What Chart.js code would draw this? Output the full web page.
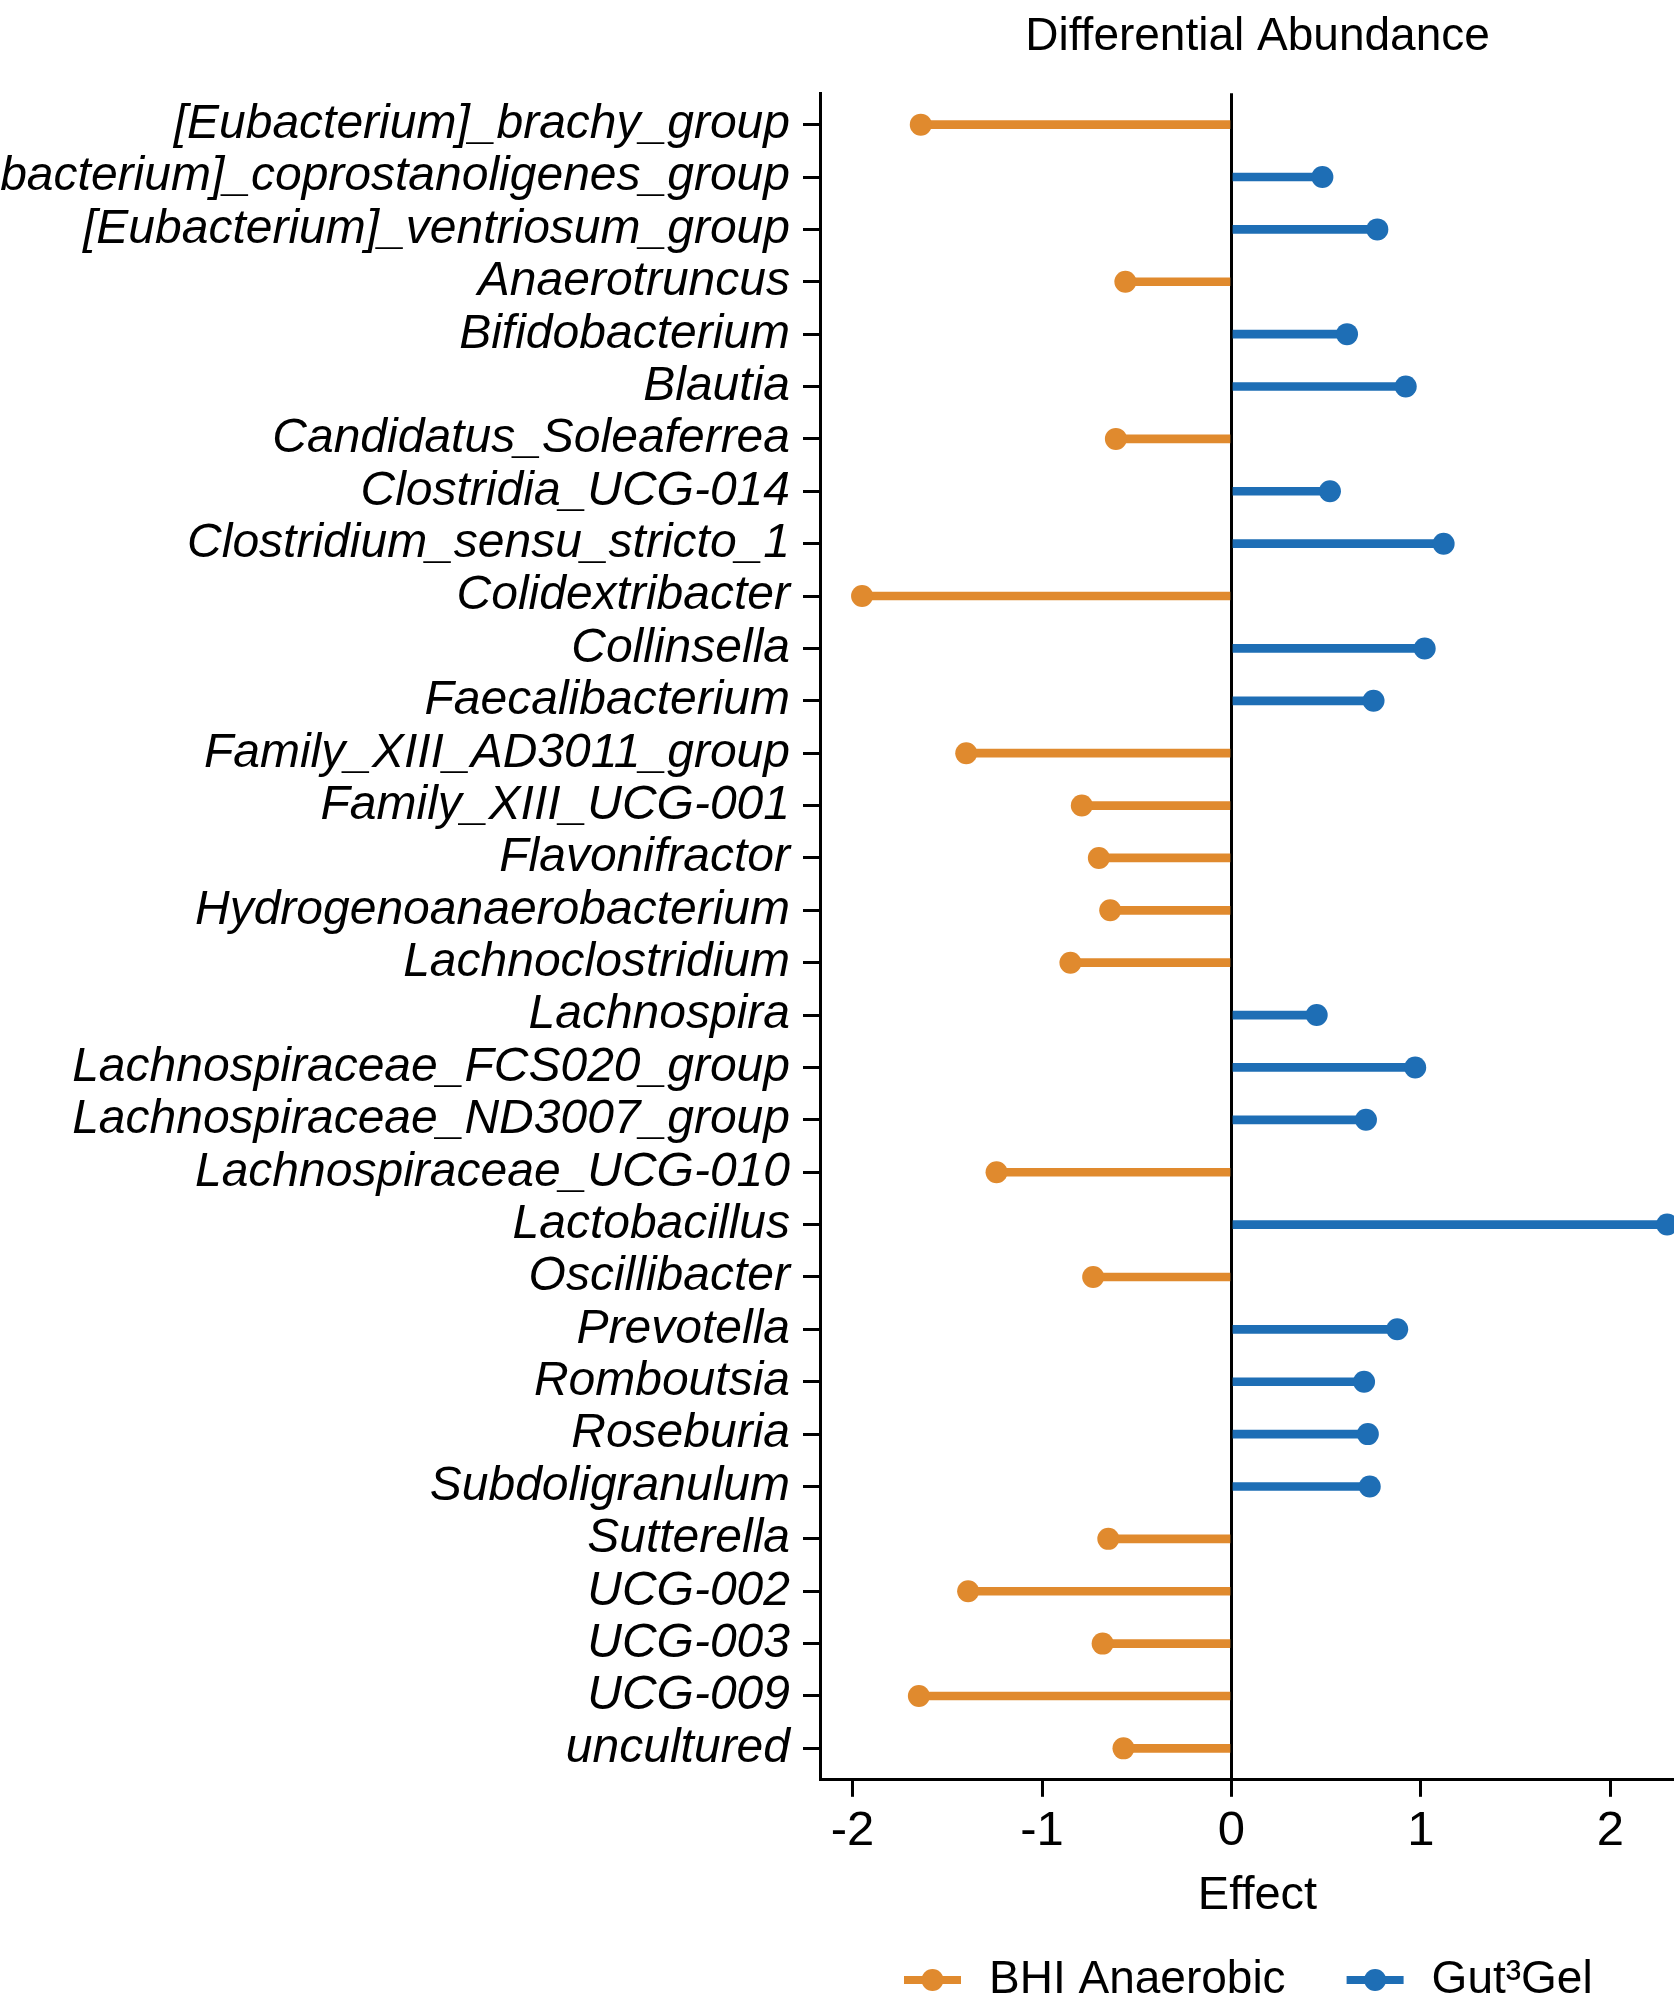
<!DOCTYPE html>
<html>
<head>
<meta charset="utf-8">
<title>Differential Abundance</title>
<script src="https://cdn.jsdelivr.net/npm/chart.js@4.4.1/dist/chart.umd.min.js"></script>
<style>
  html, body { margin: 0; padding: 0; background: #fff; overflow: hidden; }
  #wrap { width: 1706px; height: 2010px; }
</style>
</head>
<body>
<div id="wrap"><canvas id="abundanceChart" width="1706" height="2010"></canvas></div>
<script>
const taxa = [
  "[Eubacterium]_brachy_group",
  "[Eubacterium]_coprostanoligenes_group",
  "[Eubacterium]_ventriosum_group",
  "Anaerotruncus",
  "Bifidobacterium",
  "Blautia",
  "Candidatus_Soleaferrea",
  "Clostridia_UCG-014",
  "Clostridium_sensu_stricto_1",
  "Colidextribacter",
  "Collinsella",
  "Faecalibacterium",
  "Family_XIII_AD3011_group",
  "Family_XIII_UCG-001",
  "Flavonifractor",
  "Hydrogenoanaerobacterium",
  "Lachnoclostridium",
  "Lachnospira",
  "Lachnospiraceae_FCS020_group",
  "Lachnospiraceae_ND3007_group",
  "Lachnospiraceae_UCG-010",
  "Lactobacillus",
  "Oscillibacter",
  "Prevotella",
  "Romboutsia",
  "Roseburia",
  "Subdoligranulum",
  "Sutterella",
  "UCG-002",
  "UCG-003",
  "UCG-009",
  "uncultured"
];

// effect per taxon, null where the taxon belongs to the other medium
const bhiEffect = [
  -1.64, null, null, -0.56, null, null, -0.61, null, null, -1.95, null, null,
  -1.40, -0.79, -0.70, -0.64, -0.85, null, null, null, -1.24, null, -0.73, null,
  null, null, null, -0.65, -1.39, -0.68, -1.65, -0.57
];
const gutEffect = [
  null, 0.48, 0.77, null, 0.61, 0.92, null, 0.52, 1.12, null, 1.02, 0.75,
  null, null, null, null, null, 0.45, 0.97, 0.71, null, 2.30, null, 0.875,
  0.70, 0.72, 0.73, null, null, null, null, null
];
const effectTicks = [-2, -1, 0, 1, 2];

const ORANGE = "#E08A2E";
const BLUE = "#1E6EB5";
const FONT = "'Liberation Sans', Arial, sans-serif";

function stems(values) {
  return values.map((v, i) => v == null ? null : { x: [0, v], y: i }).filter(Boolean);
}
function dots(values) {
  return values.map((v, i) => v == null ? null : { x: v, y: i }).filter(Boolean);
}

// legend under the axis: line-with-dot mark + name for each point dataset
const lollipopLegend = {
  id: "lollipopLegend",
  afterDraw(chart) {
    const { ctx, chartArea } = chart;
    const markY = chart.height - 30;
    const textY = chart.height - 17;
    let x = chartArea.left + 84;
    ctx.save();
    ctx.font = `46px ${FONT}`;
    ctx.textBaseline = "alphabetic";
    chart.data.datasets.filter(d => d.type === "scatter").forEach(d => {
      ctx.strokeStyle = d.backgroundColor;
      ctx.fillStyle = d.backgroundColor;
      ctx.lineWidth = 8;
      ctx.beginPath();
      ctx.moveTo(x, markY);
      ctx.lineTo(x + 57, markY);
      ctx.stroke();
      ctx.beginPath();
      ctx.arc(x + 28.5, markY, 11, 0, Math.PI * 2);
      ctx.fill();
      ctx.fillStyle = "#000";
      ctx.fillText(d.label, x + 85, textY);
      x += 85 + ctx.measureText(d.label).width + 61;
    });
    ctx.restore();
  }
};

const ctx = document.getElementById("abundanceChart").getContext("2d");
new Chart(ctx, {
  type: "bar",
  data: {
    datasets: [
      { type: "scatter", label: "BHI Anaerobic", data: dots(bhiEffect), backgroundColor: ORANGE,
        pointRadius: 11, pointHoverRadius: 11, borderWidth: 0, order: 0 },
      { type: "scatter", label: "Gut\u00B3Gel", data: dots(gutEffect), backgroundColor: BLUE,
        pointRadius: 11, pointHoverRadius: 11, borderWidth: 0, order: 0 },
      { label: "bhi-stem", data: stems(bhiEffect), backgroundColor: ORANGE, barThickness: 8, order: 1 },
      { label: "gut-stem", data: stems(gutEffect), backgroundColor: BLUE, barThickness: 8, order: 1 }
    ]
  },
  options: {
    responsive: false,
    devicePixelRatio: 1,
    animation: false,
    indexAxis: "y",
    grouped: false,
    layout: { padding: { bottom: 86 } },
    plugins: {
      title: {
        display: true,
        fullSize: false,
        text: "Differential Abundance",
        color: "#000",
        font: { family: FONT, size: 46, weight: "normal", lineHeight: 1.2 },
        padding: { top: 10, bottom: 28 }
      },
      legend: { display: false },
      tooltip: { enabled: false }
    },
    scales: {
      x: {
        type: "linear",
        min: -2.172,
        max: 2.447,
        afterBuildTicks: scale => { scale.ticks = effectTicks.map(v => ({ value: v })); },
        border: { display: true, color: "#000", width: 3 },
        grid: {
          drawOnChartArea: true,
          color: c => (c.tick && c.tick.value === 0) ? "#000" : "rgba(0,0,0,0)",
          lineWidth: 3,
          drawTicks: true,
          tickLength: 17,
          tickColor: "#000",
          tickWidth: 3
        },
        ticks: {
          color: "#000",
          padding: 5,
          font: { family: FONT, size: 49 },
          callback: v => String(v)
        },
        title: {
          display: true,
          text: "Effect",
          color: "#000",
          font: { family: FONT, size: 47 },
          padding: { top: 2, bottom: 0 }
        }
      },
      y: {
        type: "linear",
        reverse: true,
        offset: false,
        min: -0.6,
        max: 31.6,
        afterBuildTicks: scale => { scale.ticks = taxa.map((t, i) => ({ value: i })); },
        afterFit: scale => { scale.width = 820; },
        border: { display: true, color: "#000", width: 3 },
        grid: {
          offset: false,
          drawOnChartArea: false,
          drawTicks: true,
          tickLength: 17,
          tickColor: "#000",
          tickWidth: 3
        },
        ticks: {
          color: "#000",
          padding: 13,
          autoSkip: false,
          font: { family: FONT, size: 48, style: "italic" },
          callback: v => taxa[v]
        }
      }
    }
  },
  plugins: [lollipopLegend]
});
</script>
</body>
</html>
